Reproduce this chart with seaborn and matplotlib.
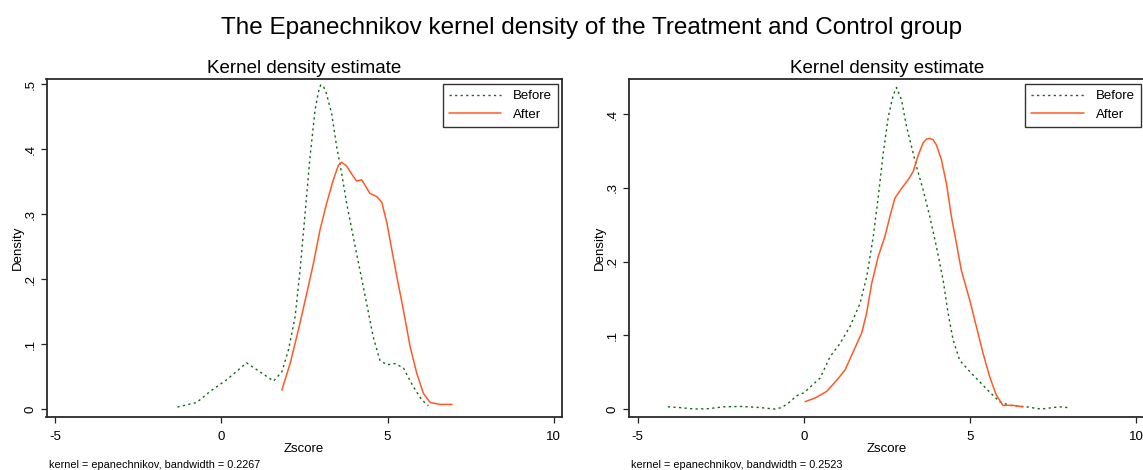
import matplotlib
matplotlib.use("Agg")
import matplotlib.pyplot as plt
import seaborn as sns
import pandas as pd

# Treatment group (left panel) density curves
left_before_x = [-1.32, -0.74, -0.34, 0.16, 0.76, 1.17, 1.57, 1.82, 2.02, 2.22, 2.37, 2.52,
                 2.67, 2.82, 2.92, 2.99, 3.07, 3.15, 3.32, 3.47, 3.62, 3.77, 3.97, 4.17, 4.37, 4.57,
                 4.77, 4.98, 5.23, 5.48, 5.78, 6.03, 6.23]
left_before_y = [0.003, 0.010, 0.027, 0.045, 0.071, 0.057, 0.043, 0.057, 0.091, 0.142, 0.214, 0.301,
                 0.389, 0.460, 0.488, 0.499, 0.497, 0.488, 0.455, 0.404, 0.363, 0.317, 0.265, 0.214, 0.163, 0.111,
                 0.075, 0.068, 0.070, 0.063, 0.034, 0.014, 0.005]
left_after_x = [1.82, 2.07, 2.32, 2.57, 2.77, 2.97, 3.17, 3.37, 3.52, 3.62, 3.77, 3.92, 4.07,
                4.22, 4.32, 4.47, 4.68, 4.83, 4.98, 5.13, 5.28, 5.48, 5.68, 5.88, 6.08, 6.28,
                6.58, 6.94]
left_after_y = [0.029, 0.070, 0.122, 0.178, 0.224, 0.276, 0.317, 0.353, 0.375, 0.380, 0.374, 0.362, 0.351,
                0.353, 0.345, 0.332, 0.327, 0.318, 0.287, 0.245, 0.204, 0.152, 0.096, 0.055, 0.024, 0.010,
                0.007, 0.007]

# Control group (right panel) density curves
right_before_x = [-4.09, -3.74, -3.30, -2.86, -2.42, -1.87, -1.32, -0.88, -0.66, -0.41, -0.22, 0.0,
                  0.49, 0.79, 1.09, 1.39, 1.69, 1.89, 2.09, 2.24, 2.39, 2.54, 2.69, 2.79, 2.94,
                  3.09, 3.24, 3.39, 3.59, 3.79, 3.99, 4.19, 4.34, 4.49, 4.69, 4.99, 5.29, 5.59,
                  5.89, 6.19, 6.69, 7.14, 7.69, 7.93]
right_before_y = [0.003, 0.002, 0.0, 0.0005, 0.003, 0.0035, 0.002, 0.0, 0.002, 0.010, 0.018, 0.022,
                  0.042, 0.071, 0.089, 0.112, 0.143, 0.179, 0.234, 0.288, 0.347, 0.396, 0.426, 0.436, 0.419,
                  0.383, 0.356, 0.329, 0.297, 0.261, 0.220, 0.175, 0.130, 0.094, 0.066, 0.051, 0.037, 0.023,
                  0.010, 0.005, 0.003, 0.0, 0.003, 0.002]
right_after_x = [0.04, 0.34, 0.69, 0.99, 1.24, 1.49, 1.74, 1.89, 2.04, 2.24, 2.44, 2.59, 2.74,
                 2.94, 3.14, 3.29, 3.44, 3.59, 3.69, 3.79, 3.89, 3.99, 4.14, 4.29, 4.44, 4.59, 4.74, 4.99,
                 5.19, 5.39, 5.59, 5.79, 5.99, 6.29, 6.59]
right_after_y = [0.010, 0.015, 0.024, 0.039, 0.053, 0.078, 0.103, 0.130, 0.170, 0.207, 0.234, 0.261, 0.286,
                 0.299, 0.311, 0.322, 0.344, 0.361, 0.366, 0.367, 0.365, 0.358, 0.338, 0.306, 0.261, 0.225,
                 0.188, 0.148, 0.112, 0.076, 0.044, 0.019, 0.005, 0.005, 0.003]

x_ticks = [-5, 0, 5, 10]
left_y_ticks = [0, 0.1, 0.2, 0.3, 0.4, 0.5]
left_y_labels = ["0", ".1", ".2", ".3", ".4", ".5"]
right_y_ticks = [0, 0.1, 0.2, 0.3, 0.4]
right_y_labels = ["0", ".1", ".2", ".3", ".4"]
bandwidths = ["0.2267", "0.2523"]

suptitle = "The Epanechnikov kernel density of the Treatment and Control group"
panel_title = "Kernel density estimate"

sns.set_style("white")
plt.rcParams["font.family"] = ["Liberation Sans", "DejaVu Sans"]
plt.rcParams["text.color"] = "black"
plt.rcParams["axes.labelcolor"] = "black"
plt.rcParams["xtick.color"] = "black"
plt.rcParams["ytick.color"] = "black"

GREEN = "#106b10"
ORANGE = "#ff5a26"

W, H = 1143, 470
fig = plt.figure(figsize=(W / 100, H / 100), dpi=100)

ax_w = 515.5 / W
ax_h = 337.7 / H
ax_b = (H - 416.7) / H
ax_left = fig.add_axes([46.5 / W, ax_b, ax_w, ax_h])
ax_right = fig.add_axes([629.0 / W, ax_b, ax_w, ax_h])

panels = [
    (ax_left, left_before_x, left_before_y, left_after_x, left_after_y,
     left_y_ticks, left_y_labels, (-0.0119, 0.5082), bandwidths[0]),
    (ax_right, right_before_x, right_before_y, right_after_x, right_after_y,
     right_y_ticks, right_y_labels, (-0.0104, 0.4475), bandwidths[1]),
]

for ax, bx, by, axx, ay, yt, yl, ylim, bw in panels:
    before = pd.DataFrame({"Zscore": bx, "Density": by})
    after = pd.DataFrame({"Zscore": axx, "Density": ay})
    sns.lineplot(data=before, x="Zscore", y="Density", ax=ax, color=GREEN,
                 linewidth=1.0, linestyle=(0, (1.6, 2.4)), estimator=None,
                 sort=False, label="Before")
    sns.lineplot(data=after, x="Zscore", y="Density", ax=ax, color=ORANGE,
                 linewidth=1.1, estimator=None, sort=False, label="After")

    ax.set_xlim(-5.26, 10.25)
    ax.set_ylim(*ylim)
    ax.set_xticks(x_ticks)
    ax.set_xticklabels([str(t) for t in x_ticks], fontsize=9.5)
    ax.set_yticks(yt)
    ax.set_yticklabels(yl, fontsize=9.5, rotation=90, va="center")
    ax.tick_params(axis="both", direction="out", length=4.2, width=0.9,
                   color="#222222", bottom=True, left=True)
    ax.tick_params(axis="x", pad=6)
    ax.tick_params(axis="y", pad=3)
    for s in ax.spines.values():
        s.set_visible(True)
        s.set_color("#2a2a2a")
        s.set_linewidth(1.3)

    ax.set_xlabel("Zscore", fontsize=9.5, labelpad=0)
    ax.set_ylabel("Density", fontsize=9.5, labelpad=0.5)
    ax.set_title(panel_title, fontsize=13.5, pad=4)

    leg = ax.legend(loc="upper right", bbox_to_anchor=(1 - 3.7 / 515.5, 1 - 5 / 337.7),
                    borderaxespad=0, frameon=True, fancybox=False, fontsize=9.5,
                    handlelength=4.0, handletextpad=0.9, labelspacing=0.5,
                    borderpad=0.45)
    leg.get_frame().set_edgecolor("black")
    leg.get_frame().set_linewidth(1.0)

    pos = ax.get_position()
    fig.text(pos.x0 + 2.5 / W, 1 - 464.5 / H, f"kernel = epanechnikov, bandwidth = {bw}",
             fontsize=7.8, ha="left", va="center")

fig.text(592 / W, 1 - 28 / H, suptitle, fontsize=17.5, ha="center", va="center")

fig.savefig("out.png", dpi=100)
